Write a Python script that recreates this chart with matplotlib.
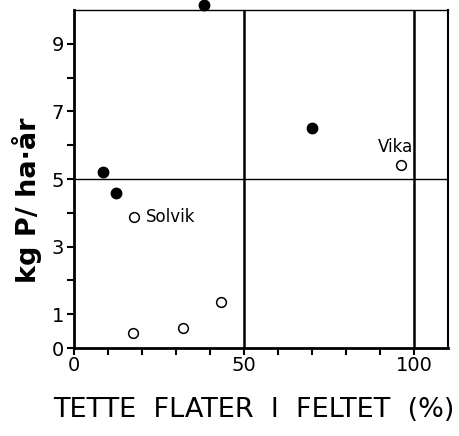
import matplotlib
matplotlib.use("Agg")
import matplotlib.pyplot as plt

# Data
filled_x = [8.5, 12.3, 38.2, 70.0]
filled_y = [5.2, 4.6, 10.15, 6.5]
open_x = [17.6, 17.3, 32.2, 43.4, 96.2]
open_y = [3.88, 0.44, 0.6, 1.36, 5.41]
labels = {"Solvik": (17.6, 3.88), "Vika": (96.2, 5.41)}
xtick_labels = [0, 50, 100]
ytick_labels = [0, 1, 3, 5, 7, 9]

plt.rcParams['font.family'] = ['DejaVu Sans']
fig = plt.figure(figsize=(4.59, 4.36), dpi=100)
ax = fig.add_axes([0.161, 0.2018, 0.815, 0.775])
ax.set_xlim(0, 110)
ax.set_ylim(0, 10)

for s in ['left', 'bottom']:
    ax.spines[s].set_linewidth(2.0)
ax.spines['top'].set_linewidth(1.0)
ax.spines['right'].set_linewidth(1.5)

ax.axvline(50, color='black', lw=1.8)
ax.axvline(100, color='black', lw=1.8)
ax.axhline(5, color='black', lw=1.0)

ax.plot(filled_x, filled_y, 'o', color='black', markersize=7.5, clip_on=False, zorder=5)
ax.plot(open_x, open_y, 'o', mfc='white', mec='black', mew=1.1, markersize=7, clip_on=False, zorder=5)

sx, sy = labels["Solvik"]
ax.text(sx + 3.5, sy, "Solvik", fontsize=12, va='center', ha='left')
vx, vy = labels["Vika"]
ax.text(vx + 3.6, vy + 0.55, "Vika", fontsize=12, va='center', ha='right')

ax.set_xticks(xtick_labels)
ax.set_xticklabels([str(v) for v in xtick_labels], fontsize=14)
ax.set_xticks(range(0, 101, 10), minor=True)
ax.set_yticks(ytick_labels)
ax.set_yticklabels([str(v) for v in ytick_labels], fontsize=14)
ax.set_yticks([2, 4, 6, 8], minor=True)
ax.tick_params(axis='both', which='both', direction='out', width=1.5, length=5)
ax.tick_params(axis='x', pad=1)
ax.tick_params(axis='y', pad=2)

fig.text(253.5 / 459, 1 - 410 / 436, "TETTE  FLATER  I  FELTET  (%)", fontsize=19.5,
         ha='center', va='center')
fig.text(27 / 459, 1 - 200 / 436, "kg P/ ha·år", fontsize=19.5, fontweight='bold',
         rotation=90, ha='center', va='center')

fig.savefig("out.png", dpi=100)
